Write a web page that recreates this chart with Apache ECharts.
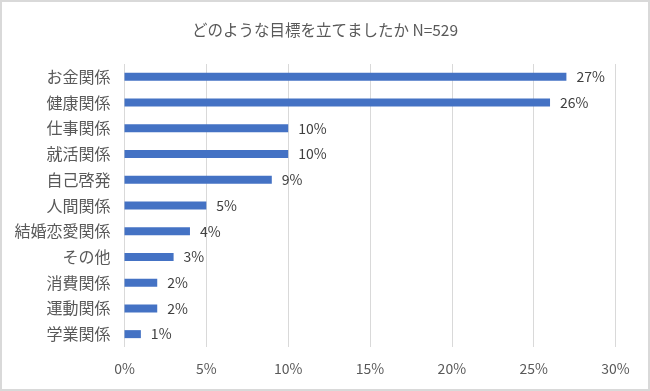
<!DOCTYPE html>
<html>
<head>
<meta charset="utf-8">
<script src="https://cdn.jsdelivr.net/npm/echarts@6/dist/echarts.min.js"></script>
<style>
html,body{margin:0;padding:0;background:#fff;}
#c{width:650px;height:391px;}
</style>
</head>
<body>
<div id="c"></div>
<script>
const titleText = 'どのような目標を立てましたか N=529';
const categories = ['お金関係','健康関係','仕事関係','就活関係','自己啓発','人間関係','結婚恋愛関係','その他','消費関係','運動関係','学業関係'];
const values = [27, 26, 10, 10, 9, 5, 4, 3, 2, 2, 1];
const xTicks = [0, 5, 10, 15, 20, 25, 30];

const font = '"Noto Sans CJK JP", "Noto Sans", sans-serif';
const chart = echarts.init(document.getElementById('c'), null, {renderer: 'canvas'});
chart.setOption({
  animation: false,
  backgroundColor: '#fff',
  title: {
    text: titleText,
    left: 'center',
    top: 17,
    textStyle: {fontFamily: font, fontSize: 15.5, fontWeight: 'normal', color: '#595959'}
  },
  graphic: [{
    type: 'rect',
    shape: {x: 1, y: 1, width: 648, height: 389},
    style: {fill: null, stroke: '#d9d9d9', lineWidth: 2},
    silent: true, z: 100
  }],
  grid: {left: 124.5, right: 34.5, top: 64, bottom: 44, containLabel: false},
  xAxis: {
    type: 'value',
    min: xTicks[0],
    max: xTicks[xTicks.length - 1],
    interval: 5,
    axisLine: {show: false},
    axisTick: {show: false},
    splitLine: {show: true, lineStyle: {color: '#d9d9d9', width: 1}},
    axisLabel: {
      formatter: v => v + '%',
      color: '#595959',
      fontFamily: font,
      fontSize: 14,
      margin: 15
    }
  },
  yAxis: {
    type: 'category',
    data: categories,
    inverse: true,
    axisLine: {show: false},
    axisTick: {show: false},
    axisLabel: {color: '#595959', fontFamily: font, fontSize: 16, margin: 14}
  },
  series: [{
    type: 'bar',
    data: values,
    barWidth: 8,
    itemStyle: {color: '#4472C4'},
    label: {
      show: true,
      position: 'right',
      distance: 10,
      formatter: p => p.value + '%',
      color: '#404040',
      fontFamily: font,
      fontSize: 14
    }
  }]
});
</script>
</body>
</html>
